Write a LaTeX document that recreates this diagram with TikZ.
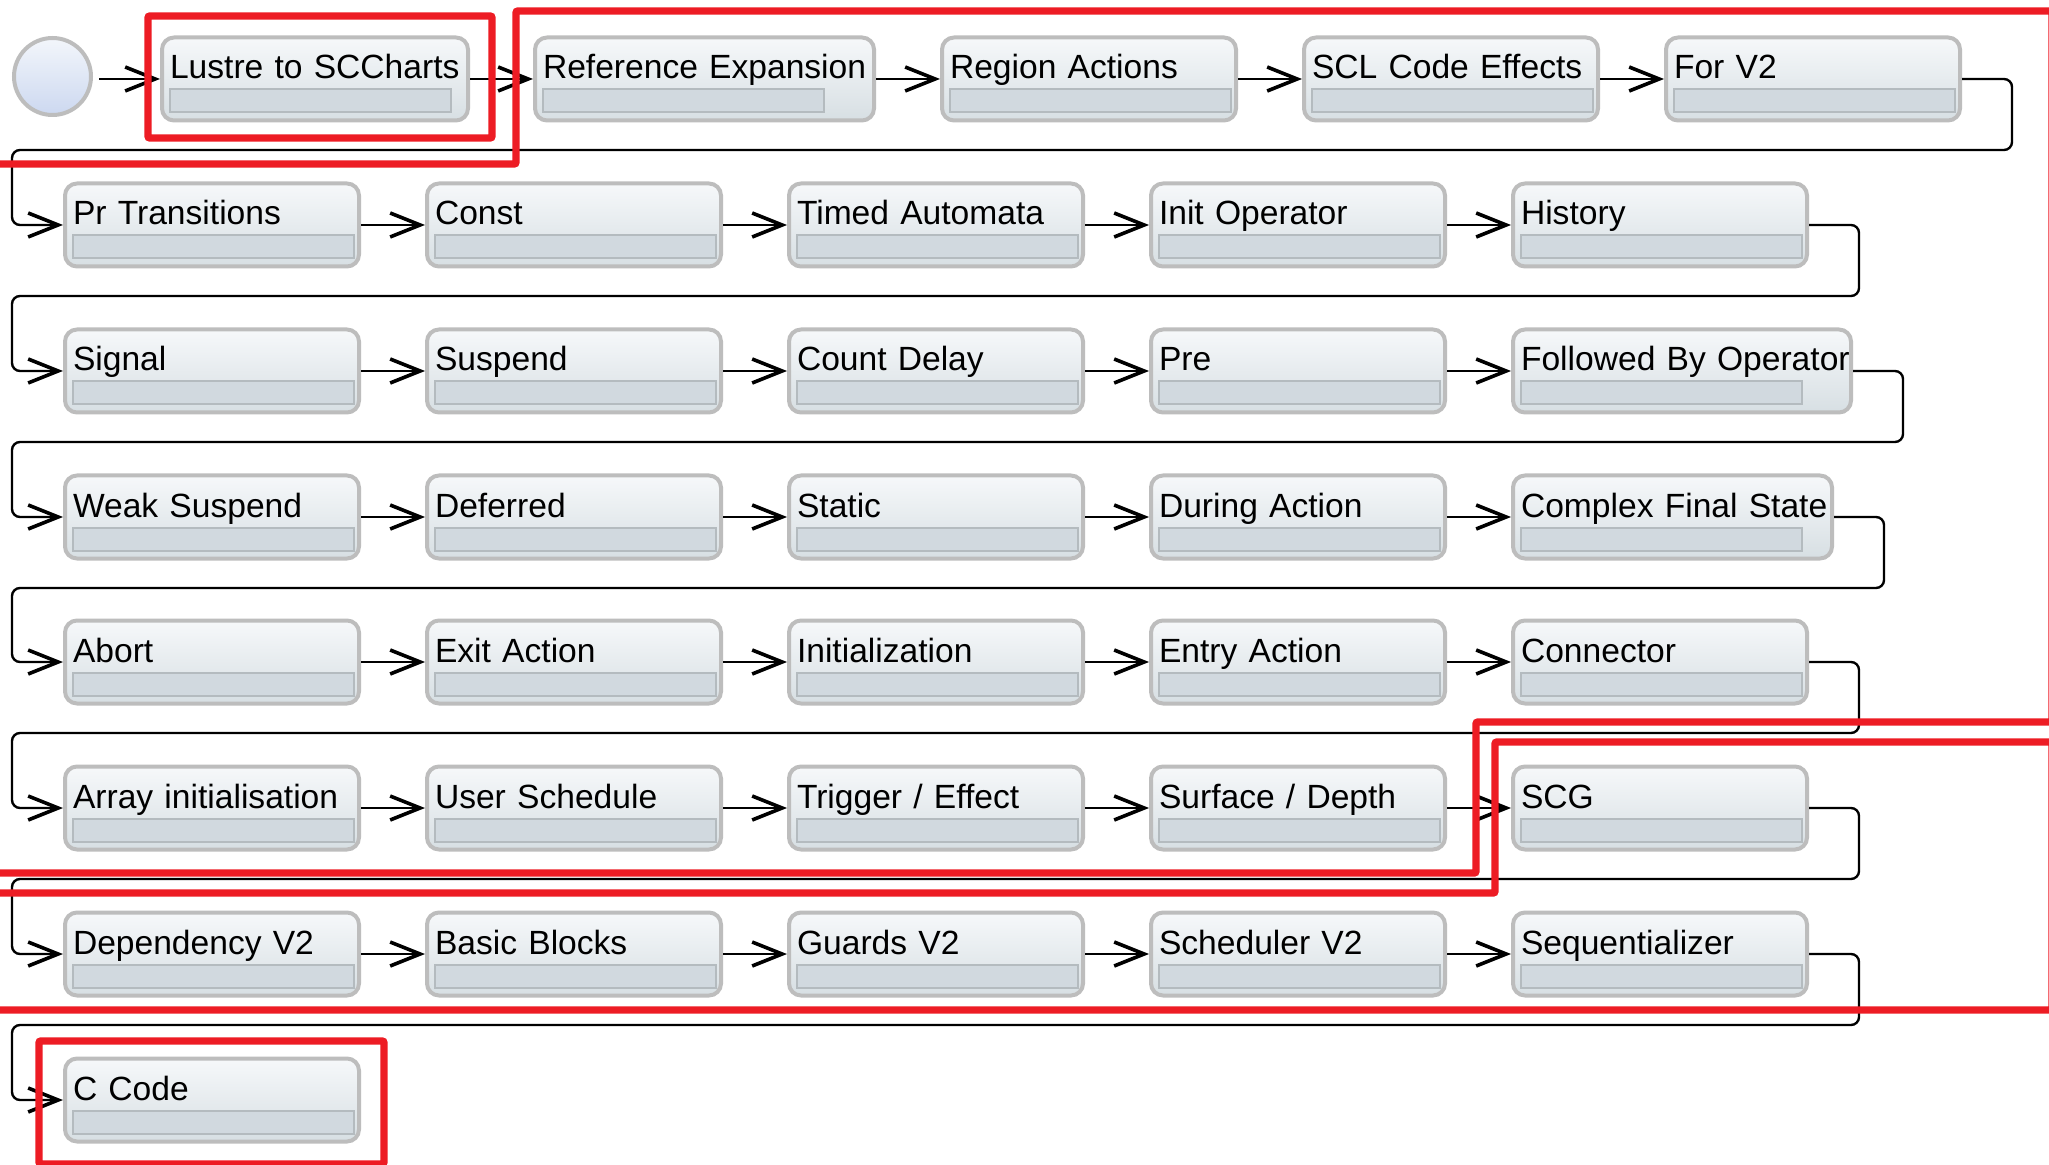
\documentclass[tikz,border=0pt]{standalone}
\usepackage{fontspec}
\setmainfont{Liberation Sans}
\usetikzlibrary{arrows.meta,calc}
\definecolor{boxtop}{HTML}{F6F8FA}
\definecolor{boxbot}{HTML}{D7DFE3}
\definecolor{boxedge}{HTML}{BDBDBD}
\definecolor{barfill}{HTML}{D1D9DF}
\definecolor{baredge}{HTML}{B4BBBF}
\definecolor{dottop}{HTML}{F3F6FB}
\definecolor{dotbot}{HTML}{CCD8F0}
\definecolor{hilite}{HTML}{ED1C24}
\tikzset{
  stepbox/.style={draw=boxedge, line width=2pt, rounded corners=6pt,
    top color=boxtop, bottom color=boxbot, anchor=west,
    minimum height=41.5pt, text height=12.5pt, text depth=12.5pt,
    inner xsep=4pt, inner ysep=2pt, text width=#1, align=left,
    font=\fontsize{16.8pt}{20pt}\selectfont, text=black,
    path picture={\draw[sharp corners, line width=1pt, draw=baredge, fill=barfill]
      ([xshift=4pt,yshift=-26pt]path picture bounding box.north west)
      rectangle ++(140.5pt,-11.5pt);}},
  stepbox/.default=139pt,
  flow/.style={draw=black, line width=1.2pt, rounded corners=4pt,
    -{Straight Barb[length=15pt,width=12pt,line width=1.8pt]}},
  redframe/.style={draw=hilite, line width=3.7pt, rounded corners=1pt}
}
\begin{document}
\begin{tikzpicture}[x=0.5pt, y=-0.5pt]
  \useasboundingbox (0,0) rectangle (2049,1165);
  \clip (0,0) rectangle (2049,1165);
  \fill[white] (0,0) rectangle (2049,1165);

  % initial state
  \node[circle, draw=boxedge, line width=2pt, minimum size=38.5pt,
        top color=dottop, bottom color=dotbot] (entrypt) at (52.5,76.5) {};

  % row 1
  \node[stepbox=145pt]   (lustre) at (160,79)  {\mbox{Lustre to SCCharts}};
  \node[stepbox=161.5pt] (refexp) at (533,79)  {\mbox{Reference Expansion}};
  \node[stepbox]         (regact) at (940,79)  {Region Actions};
  \node[stepbox]         (sclfx)  at (1302,79) {SCL Code Effects};
  \node[stepbox]         (forv)   at (1664,79) {For V2};

  % row 2
  \node[stepbox] (prtrans) at (63,225)   {Pr Transitions};
  \node[stepbox] (const)   at (425,225)  {Const};
  \node[stepbox] (timed)   at (787,225)  {Timed Automata};
  \node[stepbox] (initop)  at (1149,225) {Init Operator};
  \node[stepbox] (history) at (1511,225) {History};

  % row 3
  \node[stepbox] (signal)     at (63,371)   {Signal};
  \node[stepbox] (suspend)    at (425,371)  {Suspend};
  \node[stepbox] (countdelay) at (787,371)  {Count Delay};
  \node[stepbox] (pre)        at (1149,371) {Pre};
  \node[stepbox=161pt] (followed) at (1511,371) {\mbox{Followed By Operator}};

  % row 4
  \node[stepbox] (weaksusp) at (63,517)   {Weak Suspend};
  \node[stepbox] (deferred) at (425,517)  {Deferred};
  \node[stepbox] (static)   at (787,517)  {Static};
  \node[stepbox] (during)   at (1149,517) {During Action};
  \node[stepbox=151.5pt] (cfs) at (1511,517) {\mbox{Complex Final State}};

  % row 5
  \node[stepbox] (abort)     at (63,662)   {Abort};
  \node[stepbox] (exitact)   at (425,662)  {Exit Action};
  \node[stepbox] (initz)     at (787,662)  {Initialization};
  \node[stepbox] (entryact)  at (1149,662) {Entry Action};
  \node[stepbox] (connector) at (1511,662) {Connector};

  % row 6
  \node[stepbox] (arrinit)   at (63,808)   {\mbox{Array initialisation}};
  \node[stepbox] (usersched) at (425,808)  {User Schedule};
  \node[stepbox] (trigger)   at (787,808)  {Trigger / Effect};
  \node[stepbox] (surface)   at (1149,808) {Surface / Depth};
  \node[stepbox] (scg)       at (1511,808) {SCG};

  % row 7
  \node[stepbox] (dep)    at (63,954)   {Dependency V2};
  \node[stepbox] (bb)     at (425,954)  {Basic Blocks};
  \node[stepbox] (guards) at (787,954)  {Guards V2};
  \node[stepbox] (sched)  at (1149,954) {Scheduler V2};
  \node[stepbox] (seq)    at (1511,954) {Sequentializer};

  % row 8
  \node[stepbox] (ccode) at (63,1100) {C Code};

  % transitions within a row
  \draw[flow, shorten <=3pt] (entrypt.east |- lustre.west) -- (lustre.west);
  \foreach \a/\b in {lustre/refexp, refexp/regact, regact/sclfx, sclfx/forv,
      prtrans/const, const/timed, timed/initop, initop/history,
      signal/suspend, suspend/countdelay, countdelay/pre, pre/followed,
      weaksusp/deferred, deferred/static, static/during, during/cfs,
      abort/exitact, exitact/initz, initz/entryact, entryact/connector,
      arrinit/usersched, usersched/trigger, trigger/surface, surface/scg,
      dep/bb, bb/guards, guards/sched, sched/seq}
    \draw[flow] (\a.east) -- (\b.west);

  % transitions wrapping to the next row
  \foreach \a/\b in {forv/prtrans, history/signal, followed/weaksusp,
      cfs/abort, connector/arrinit, scg/dep, seq/ccode}
    \draw[flow] (\a.east) -- ++(50,0) -- ++(0,71) coordinate (low)
      -- (12,0 |- low) |- (\b.west);

  % highlighted groups
  \draw[redframe] (148,16) rectangle (492,138);
  \draw[redframe] (-10,164) -- (516,164) -- (516,11) -- (2052,11)
    -- (2052,722) -- (1476,722) -- (1476,873) -- (-10,873);
  \draw[redframe] (-10,893) -- (1495,893) -- (1495,742) -- (2052,742)
    -- (2052,1010) -- (-10,1010);
  \draw[redframe] (39,1041) rectangle (384,1164);
\end{tikzpicture}
\end{document}
